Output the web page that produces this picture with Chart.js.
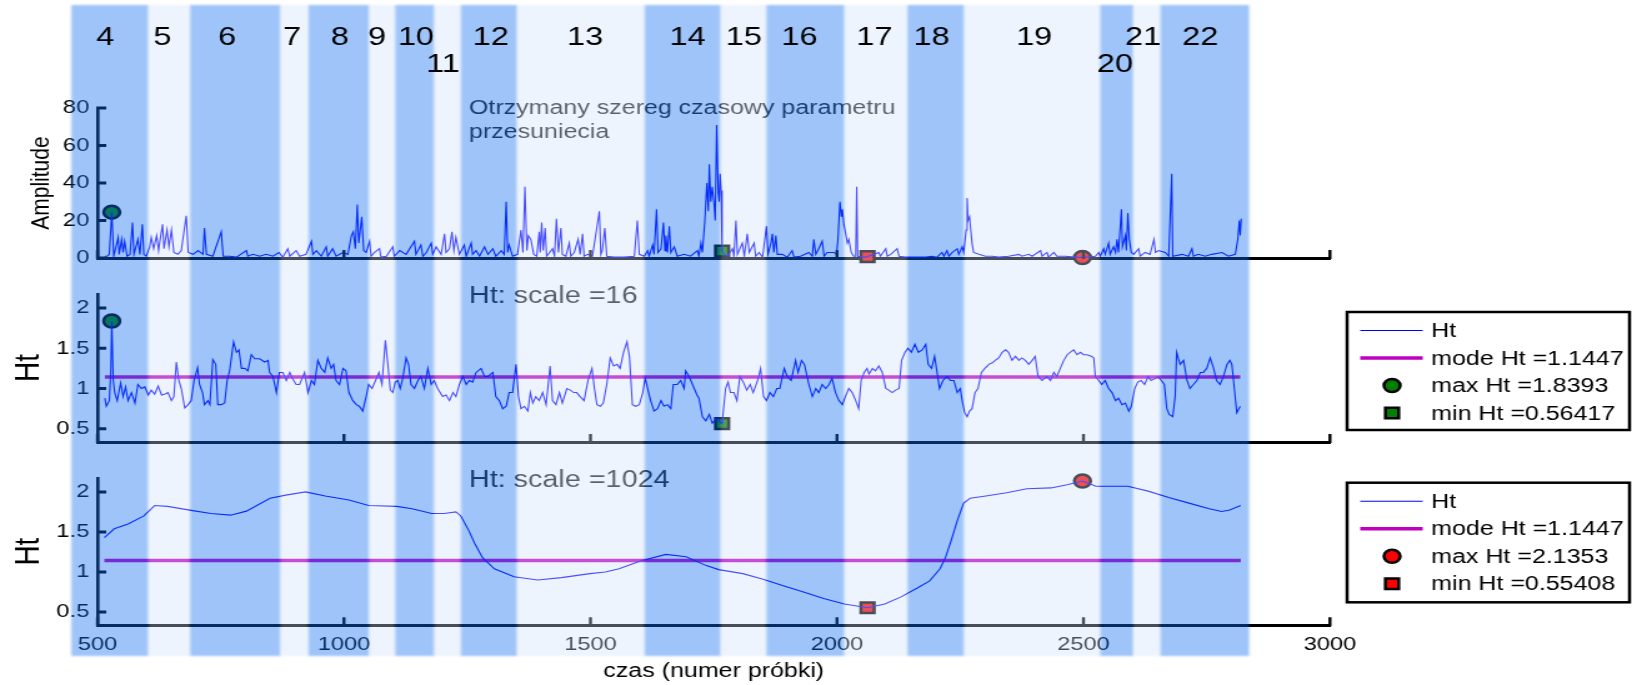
<!DOCTYPE html>
<html>
<head>
<meta charset="utf-8">
<script src="https://cdn.jsdelivr.net/npm/chart.js@4.4.0/dist/chart.umd.min.js"></script>
<style>
  body { margin: 0; background: #fff; width: 1632px; height: 685px; overflow: hidden; position: relative; }
  canvas { position: absolute; left: 0; }
</style>
</head>
<body>
<canvas id="amp" width="1306" height="276" style="top:0;width:1632px;height:276px"></canvas>
<canvas id="ht16" width="1306" height="184" style="top:276px;width:1632px;height:184px"></canvas>
<canvas id="ht1024" width="1306" height="225" style="top:460px;width:1632px;height:225px"></canvas>
<script>
// sample axis
const sampleRange = [500, 3000];
const xTicks = [500, 1000, 1500, 2000, 2500, 3000];

// segments 4..22 (boundaries in samples)
const segmentNames = ['4', '5', '6', '7', '8', '9', '10', '11', '12', '13', '14', '15', '16', '17', '18', '19', '20', '21', '22'];
const segmentEdges = [447, 603, 688, 871, 928, 1051, 1104, 1183, 1237, 1351, 1610, 1764, 1857, 2015, 2143, 2258, 2534, 2601, 2656, 2836];
const segmentLabelAt = [516, 632, 763, 895, 992, 1067, 1146, 1201, 1298, 1489, 1697, 1811, 1924, 2076, 2192, 2400, 2564, 2621, 2737];

// shift parameter series [sample, amplitude]
const amplitude = [
  [515,1],[520,1],[524,2],[529,24.5],[533,1],[542,11],[544,2],[549,10],[552,3],[555,9],[560,1],[566,2],[571,19],[574,2],
  [582,10],[586,2],[591,18],[594,2],[599,1],[606,6],[609,11],[614,5],[620,12],[624,4],[626,8],[632,18],[635,5],[641,15],
  [645,6],[650,15],[655,3],[663,2],[670,4],[680,22.5],[684,3],[694,2],[704,4],[714,2],[717,16],[721,2],[734,1],[751,14],
  [755,1],[768,1],[782,0.5],[802,4],[805,1],[815,2],[829,1],[842,2],[856,1],[868,3],[876,0.5],[886,5],[890,1],[903,4],
  [910,1],[923,2],[934,9],[937,2],[944,4],[954,1],[964,6],[967,1],[977,5],[984,1],[998,3],[1008,2],[1015,12],[1019,14],
  [1023,5],[1027,28.5],[1030,8],[1036,22],[1040,4],[1045,3],[1052,9],[1055,1],[1062,3],[1072,5],[1075,0.5],[1086,1],
  [1099,6],[1102,1],[1113,4],[1126,2],[1143,9],[1146,2],[1156,7],[1160,1],[1167,3],[1177,8],[1180,2],[1187,6],[1197,2],
  [1204,13],[1207,3],[1214,5],[1219,14],[1223,4],[1227,11],[1234,2],[1244,7],[1248,1],[1258,8],[1261,2],[1268,4],[1275,1],
  [1285,6],[1292,2],[1302,5],[1308,1],[1319,4],[1325,2],[1329,30],[1332,3],[1335,7],[1342,1],[1352,2],[1359,15],[1363,3],
  [1367,38],[1371,4],[1374,12],[1379,10],[1385,2],[1391,1],[1396,14],[1398,3],[1401,19],[1404,4],[1408,16],[1411,1],
  [1423,5],[1427,1],[1431,21],[1435,3],[1440,16],[1443,2],[1450,1],[1457,8],[1460,1],[1467,3],[1475,10],[1479,2],[1484,13],
  [1487,1],[1494,2],[1504,1],[1518,25],[1521,2],[1524,4],[1529,16],[1533,1],[1548,0.5],[1568,0.5],[1589,1],[1595,20],
  [1599,2],[1609,1],[1616,4],[1619,1],[1626,7],[1629,2],[1634,26],[1637,3],[1643,5],[1648,19],[1651,4],[1653,12],[1656,3],
  [1660,17],[1663,3],[1670,6],[1676,1],[1690,2],[1703,1],[1717,4],[1720,1],[1724,8],[1727,3],[1732,20],[1736,40],[1739,25],
  [1741,50],[1744,30],[1747,38],[1751,28],[1753,20],[1756,71],[1759,35],[1761,30],[1763,45],[1765,36],[1767,3.7],[1771,2],
  [1778,1],[1788,5],[1791,1],[1795,20],[1798,2],[1808,8],[1812,1],[1818,13],[1822,3],[1826,5],[1832,8],[1835,1],[1842,3],
  [1849,0.5],[1857,17],[1860,2],[1866,8],[1869,13],[1872,3],[1876,12],[1879,2],[1889,2],[1899,0.5],[1909,4],[1913,0.5],
  [1926,1],[1943,3],[1950,1],[1953,10],[1957,2],[1963,5],[1970,9],[1974,1],[1980,3],[1994,3],[1999,2],[2002,10],[2006,30],
  [2009,22],[2011,26],[2014,18],[2017,14],[2021,8],[2024,10],[2029,3],[2034,1],[2038,1],[2040,38],[2042,1],[2055,0.5],
  [2062,0.8],[2085,3],[2088,1],[2099,5],[2102,1],[2109,2],[2122,5],[2126,1],[2139,0.5],[2159,0.5],[2180,0.5],[2193,1],
  [2203,0.5],[2213,3],[2217,1],[2223,4],[2227,1],[2234,3],[2244,5],[2247,2],[2254,6],[2257,3],[2262,15],[2264,32],[2266,20],
  [2269,22],[2271,16],[2274,8],[2277,3],[2288,2],[2301,1],[2315,1],[2328,0.5],[2348,1],[2369,2],[2375,1],[2389,2],[2396,1],
  [2413,4],[2416,1],[2426,3],[2429,0.5],[2440,3],[2446,1],[2463,1],[2483,0.5],[2498,0.3],[2524,1],[2531,3],[2534,1],[2541,5],
  [2544,2],[2551,8],[2554,2],[2561,6],[2565,3],[2568,10],[2571,3],[2577,26],[2579,6],[2585,12],[2587,4],[2590,24],[2593,10],
  [2597,3],[2602,2],[2612,5],[2615,1],[2625,3],[2635,2],[2643,10],[2646,3],[2652,4],[2666,3],[2673,1],[2679,45],[2681,1],
  [2700,2],[2713,1],[2720,5],[2723,1],[2733,2],[2747,1],[2760,2],[2781,3],[2794,1],[2808,2],[2813,10],[2816,20],[2818,12],
  [2820,21]
];

// Ht, scale 16
const ht16 = [
  [515,0.88],[518,0.78],[524,0.85],[527,1.2],[529,1.8393],[532,1.1],[535,0.95],[540,0.85],[547,1.07],[552,0.9],[557,1.02],
  [562,0.85],[569,0.95],[576,0.82],[582,1.05],[589,1.0],[596,1.02],[603,0.92],[609,0.98],[616,0.93],[623,1.03],[630,0.92],
  [636,0.93],[643,0.95],[650,0.85],[655,0.9],[660,1.33],[665,1.1],[670,1.0],[677,0.76],[684,0.8],[690,0.85],[696,1.1],
  [703,1.26],[707,1.05],[713,0.95],[717,0.8],[724,0.85],[728,0.8],[734,1.36],[740,1.3],[744,0.8],[751,0.8],[758,0.82],
  [763,1.1],[768,1.22],[776,1.58],[782,1.45],[787,1.48],[792,1.25],[799,1.25],[805,1.22],[812,1.42],[819,1.37],[829,1.37],
  [839,1.33],[846,1.35],[849,1.2],[856,1.15],[863,0.95],[869,1.2],[876,1.2],[883,1.1],[890,1.2],[896,1.12],[903,1.05],
  [910,1.05],[920,1.2],[927,0.95],[934,1.1],[940,1.05],[947,1.35],[954,1.25],[961,1.2],[967,1.38],[974,1.25],[979,1.3],
  [984,1.1],[991,1.05],[998,1.25],[1004,1.22],[1010,0.95],[1018,0.85],[1025,0.8],[1031,0.78],[1038,0.72],[1045,0.9],
  [1050,1.05],[1057,1.0],[1064,1.1],[1071,1.2],[1077,1.05],[1084,1.6],[1089,1.3],[1094,0.98],[1099,0.95],[1104,1.08],
  [1109,1.1],[1114,1.0],[1119,1.12],[1126,1.38],[1131,1.3],[1136,1.05],[1143,1.0],[1150,1.1],[1156,1.15],[1163,1.0],
  [1170,1.25],[1177,1.05],[1183,1.1],[1190,1.0],[1200,0.9],[1207,0.92],[1214,0.85],[1221,0.95],[1227,0.9],[1234,1.05],
  [1241,1.15],[1248,1.05],[1254,1.1],[1261,1.08],[1268,1.2],[1278,1.25],[1285,1.15],[1292,1.15],[1302,1.2],[1308,0.9],
  [1315,0.85],[1322,0.75],[1329,0.78],[1335,0.95],[1342,0.95],[1349,1.3],[1354,0.9],[1359,0.75],[1366,0.78],[1373,0.72],
  [1378,0.95],[1383,0.82],[1389,0.9],[1396,0.85],[1403,0.95],[1410,0.8],[1418,1.28],[1423,0.85],[1430,0.8],[1437,0.95],
  [1443,0.82],[1452,1.0],[1459,0.98],[1466,0.95],[1472,0.95],[1479,0.9],[1487,0.85],[1495,1.1],[1503,1.25],[1508,1.0],
  [1513,0.8],[1520,0.78],[1526,0.82],[1533,1.05],[1540,1.38],[1547,1.28],[1554,1.3],[1560,1.25],[1567,1.45],[1574,1.58],
  [1579,1.4],[1585,0.8],[1592,0.78],[1599,0.8],[1606,0.95],[1611,1.13],[1616,1.0],[1622,0.85],[1629,0.72],[1636,0.75],
  [1643,0.85],[1649,0.78],[1656,0.8],[1663,0.75],[1668,1.05],[1676,1.05],[1683,1.1],[1690,1.0],[1693,1.22],[1700,1.15],
  [1707,1.05],[1716,0.92],[1720,0.88],[1727,0.65],[1734,0.6],[1741,0.68],[1747,0.57],[1754,0.62],[1759,0.62],[1763,0.58],
  [1767,0.56417],[1774,1.0],[1779,1.08],[1784,0.95],[1791,0.95],[1797,0.85],[1803,1.15],[1810,1.08],[1817,0.98],[1824,1.05],
  [1830,0.95],[1839,1.1],[1845,1.25],[1851,0.9],[1857,0.85],[1864,0.95],[1871,0.9],[1878,1.0],[1884,1.0],[1893,1.25],
  [1899,1.15],[1907,1.1],[1916,1.35],[1921,1.2],[1928,1.35],[1934,1.3],[1943,1.05],[1950,0.9],[1957,1.0],[1963,0.95],
  [1970,1.05],[1977,1.0],[1984,1.05],[1990,1.13],[1997,0.95],[2004,0.85],[2011,0.8],[2017,0.9],[2024,1.0],[2031,0.95],
  [2038,0.85],[2044,0.75],[2049,1.1],[2055,1.2],[2061,1.25],[2065,1.18],[2072,1.25],[2078,1.22],[2085,1.28],[2092,1.2],
  [2099,1.0],[2105,0.98],[2112,0.95],[2119,0.98],[2126,1.0],[2131,1.35],[2138,1.45],[2144,1.5],[2151,1.45],[2158,1.55],
  [2165,1.45],[2173,1.48],[2180,1.55],[2185,1.3],[2192,1.25],[2198,1.4],[2203,1.2],[2208,1.0],[2215,1.1],[2223,1.15],
  [2230,1.1],[2237,1.1],[2244,0.95],[2250,1.0],[2254,0.85],[2259,0.7],[2264,0.65],[2269,0.72],[2274,0.75],[2280,0.95],
  [2286,1.0],[2293,1.2],[2300,1.25],[2308,1.3],[2315,1.32],[2321,1.35],[2328,1.38],[2335,1.45],[2342,1.48],[2348,1.45],
  [2355,1.35],[2362,1.4],[2369,1.35],[2375,1.38],[2382,1.35],[2389,1.3],[2396,1.35],[2402,1.4],[2408,1.15],[2416,1.1],
  [2426,1.15],[2433,1.1],[2440,1.2],[2446,1.15],[2453,1.25],[2460,1.35],[2467,1.42],[2473,1.45],[2480,1.48],[2487,1.42],
  [2494,1.45],[2500,1.42],[2507,1.42],[2516,1.4],[2521,1.38],[2524,1.15],[2531,1.1],[2537,1.05],[2544,1.1],[2551,1.0],
  [2558,0.95],[2565,0.85],[2571,0.88],[2578,0.8],[2585,0.82],[2592,0.72],[2597,0.78],[2604,1.0],[2610,1.08],[2617,1.1],
  [2624,1.05],[2631,1.15],[2637,1.1],[2644,1.12],[2651,1.15],[2658,1.1],[2664,1.05],[2669,0.75],[2674,0.68],[2681,0.65],
  [2686,0.9],[2689,1.45],[2696,1.3],[2703,1.35],[2710,1.1],[2716,1.0],[2723,1.05],[2730,1.1],[2737,1.2],[2743,1.2],
  [2750,1.25],[2757,1.38],[2764,1.25],[2770,1.1],[2777,1.05],[2784,1.15],[2791,1.3],[2797,1.35],[2801,1.3],[2806,1.0],
  [2811,0.7],[2818,0.78]
];

// Ht, scale 1024
const ht1024 = [
  [514,1.43],[534,1.54],[562,1.60],[594,1.70],[616,1.83],[642,1.82],[690,1.77],[730,1.73],[770,1.71],[802,1.76],[850,1.92],
  [882,1.96],[922,2.0],[962,1.95],[1010,1.90],[1050,1.83],[1107,1.82],[1138,1.79],[1178,1.73],[1203,1.73],[1227,1.75],
  [1237,1.70],[1253,1.52],[1265,1.36],[1281,1.18],[1305,1.04],[1345,0.94],[1393,0.90],[1441,0.93],[1499,0.98],[1530,1.0],
  [1558,1.04],[1603,1.14],[1653,1.22],[1694,1.19],[1735,1.08],[1760,1.03],[1809,0.98],[1850,0.91],[1891,0.83],[1932,0.75],
  [1973,0.67],[2015,0.60],[2062,0.55408],[2097,0.60],[2130,0.69],[2163,0.80],[2188,0.89],[2209,1.04],[2220,1.18],[2232,1.40],
  [2245,1.66],[2257,1.86],[2270,1.92],[2302,1.95],[2344,1.99],[2385,2.04],[2434,2.05],[2467,2.09],[2498,2.1353],[2525,2.07],
  [2558,2.07],[2590,2.07],[2631,2.01],[2673,1.93],[2714,1.86],[2755,1.79],[2780,1.755],[2795,1.77],[2819,1.83]
];

const htMode = 1.1447;
const max16 = [529, 1.8393];
const min16 = [1767, 0.56417];
const max1024 = [2498, 2.1353];
const min1024 = [2062, 0.55408];
// amplitude at the four extreme positions
const ampAtExtremes = [[529, 24.5], [1767, 3.7], [2062, 0.8], [2498, 0.3]];

const ampTicks = [0, 20, 40, 60, 80];
const htTicks = [0.5, 1, 1.5, 2];

Chart.defaults.font.family = '"Liberation Sans", Arial, sans-serif';
Chart.defaults.color = '#000';

const FONT = '"Liberation Sans", Arial, sans-serif';
const GREEN = '#008000';
const RED = '#ff0000';
const xy = pts => pts.map(p => ({x: p[0], y: p[1]}));

function sampleAxis(showLabels, fitHeight) {
  return {
    type: 'linear', min: sampleRange[0], max: sampleRange[1],
    afterBuildTicks: s => { s.ticks = xTicks.map(v => ({value: v})); },
    afterFit: s => { s.height = fitHeight; },
    grid: {display: false, drawTicks: false},
    border: {display: true, color: '#000', width: 3},
    ticks: {display: showLabels, padding: 8, font: {size: 19}, maxRotation: 0, autoSkip: false, callback: v => String(v)},
    title: {display: showLabels, text: 'czas (numer próbki)', font: {size: 20}, padding: {top: 0, bottom: 2}}
  };
}

function valueAxis(min, max, ticks, title, titleSize, titlePad) {
  return {
    type: 'linear', position: 'left', min: min, max: max,
    afterBuildTicks: s => { s.ticks = ticks.map(v => ({value: v})); },
    afterFit: s => { s.width = 78; },
    grid: {display: false, drawTicks: false},
    border: {display: true, color: '#000', width: 2.6},
    ticks: {padding: 6.5, font: {size: 19}, callback: v => String(v)},
    title: {display: true, text: title, font: {size: titleSize}, padding: {top: titlePad, bottom: 0}}
  };
}

function marker(label, pt, style, fill) {
  return {
    label: label, data: xy([pt]), showLine: false, clip: false,
    pointStyle: style, pointRadius: style === 'rect' ? 7.5 : 6.5,
    pointBorderWidth: 2.5, pointBackgroundColor: fill, pointBorderColor: '#000'
  };
}

function seriesLine(label, pts) {
  return {label: label, data: xy(pts), borderColor: '#0000ff', borderWidth: 1.1, pointRadius: 0, tension: 0};
}

function modeLine(pts) {
  const first = pts[0][0], last = pts[pts.length - 1][0];
  return {label: 'mode Ht =' + htMode, data: xy([[first, htMode], [last, htMode]]),
          borderColor: '#c000c0', borderWidth: 3.5, pointRadius: 0};
}

// inward tick marks on both axes
const inwardTicks = {
  id: 'inwardTicks',
  afterDatasetsDraw(chart) {
    const {ctx, chartArea: a, scales: {x, y}} = chart;
    ctx.save();
    ctx.strokeStyle = '#000';
    ctx.lineWidth = 2.4;
    ctx.beginPath();
    for (const t of x.ticks) {
      const px = x.getPixelForValue(t.value);
      ctx.moveTo(px, a.bottom + 1);
      ctx.lineTo(px, a.bottom - 8);
    }
    ctx.stroke();
    ctx.lineWidth = 3;
    ctx.beginPath();
    for (const t of y.ticks) {
      const py = y.getPixelForValue(t.value);
      ctx.moveTo(a.left - 1, py);
      ctx.lineTo(a.left + 7, py);
    }
    ctx.stroke();
    ctx.restore();
  }
};

// notes inside the panel, segment shading, segment numbers, boxed key
const segments = {
  id: 'segments',
  afterDraw(chart, args, opts) {
    const {ctx, scales: {x}} = chart;
    const h = chart.height;

    ctx.save();
    ctx.fillStyle = '#1e1e1e';
    ctx.textBaseline = 'alphabetic';
    for (const n of opts.notes || []) {
      ctx.font = n.size + 'px ' + FONT;
      ctx.fillText(n.text, n.x, n.y);
    }
    ctx.restore();

    const top = Math.max(5 - opts.pageTop, -10);
    const bottom = Math.min(656 - opts.pageTop, h + 10);
    ctx.save();
    ctx.filter = 'blur(1px)';
    for (let i = 0; i < segmentNames.length; i++) {
      const x0 = x.getPixelForValue(segmentEdges[i]);
      const x1 = x.getPixelForValue(segmentEdges[i + 1]);
      ctx.fillStyle = i % 2 === 0 ? 'rgba(12,108,242,0.4)' : 'rgba(206,224,249,0.35)';
      ctx.fillRect(x0, top, x1 - x0, bottom - top);
    }
    ctx.restore();

    if (opts.numbers) {
      ctx.save();
      ctx.fillStyle = '#000';
      ctx.font = '26px ' + FONT;
      ctx.textAlign = 'center';
      ctx.textBaseline = 'alphabetic';
      const lowered = ['11', '20'];
      segmentNames.forEach((name, i) => {
        const px = x.getPixelForValue(segmentLabelAt[i]);
        ctx.fillText(name, px, lowered.includes(name) ? 71.5 : 45);
      });
      ctx.restore();
    }

    if (opts.key) {
      const k = opts.key;
      ctx.save();
      ctx.fillStyle = '#fff';
      ctx.fillRect(k.left, k.top, k.width, k.height);
      ctx.lineWidth = 2.5;
      ctx.strokeStyle = '#000';
      ctx.strokeRect(k.left, k.top, k.width, k.height);
      ctx.font = '20px ' + FONT;
      ctx.textBaseline = 'middle';
      chart.data.datasets.forEach((ds, i) => {
        const cy = k.top + 18.5 + i * 27.5;
        if (ds.showLine === false) {
          ctx.fillStyle = ds.pointBackgroundColor;
          ctx.strokeStyle = ds.pointBorderColor;
          ctx.lineWidth = ds.pointBorderWidth;
          Chart.helpers.drawPoint(ctx, {pointStyle: ds.pointStyle, radius: ds.pointRadius, borderWidth: ds.pointBorderWidth, rotation: 0}, k.left + 36, cy);
        } else {
          ctx.strokeStyle = ds.borderColor;
          ctx.lineWidth = ds.borderWidth;
          ctx.beginPath();
          ctx.moveTo(k.left + 10.5, cy);
          ctx.lineTo(k.left + 60.5, cy);
          ctx.stroke();
        }
        ctx.fillStyle = '#000';
        ctx.fillText(ds.label, k.left + 67.3, cy + 1);
      });
      ctx.restore();
    }
  }
};

function makeChart(id, datasets, xAxis, yAxis, padding, segOpts) {
  return new Chart(document.getElementById(id), {
    type: 'line',
    data: {datasets: datasets},
    options: {
      responsive: false,
      animation: false,
      events: [],
      devicePixelRatio: 1,
      layout: {autoPadding: false, padding: padding},
      scales: {x: xAxis, y: yAxis},
      plugins: {legend: {display: false}, tooltip: {enabled: false}, segments: segOpts}
    },
    plugins: [inwardTicks, segments]
  });
}

makeChart('amp', [
  seriesLine('Amplitude', amplitude),
  marker('', ampAtExtremes[0], 'circle', GREEN),
  marker('', ampAtExtremes[1], 'rect', GREEN),
  marker('', ampAtExtremes[2], 'rect', RED),
  marker('', ampAtExtremes[3], 'circle', RED)
], sampleAxis(false, 0), valueAxis(0, 80, ampTicks, 'Amplitude', 21, 20.4),
{top: 108, bottom: 12, left: 0, right: 241.7},
{pageTop: 0, numbers: true, notes: [
  {text: 'Otrzymany szereg czasowy parametru', x: 375.3, y: 114, size: 20},
  {text: 'przesuniecia', x: 375.3, y: 138, size: 20}
]});

makeChart('ht16', [
  seriesLine('Ht', ht16),
  modeLine(ht16),
  marker('max Ht =' + max16[1], max16, 'circle', GREEN),
  marker('min Ht =' + min16[1], min16, 'rect', GREEN)
], sampleAxis(false, 0), valueAxis(0.335, 2.175, htTicks, 'Ht', 28, 6.8),
{top: 14, bottom: 16.4, left: 0, right: 241.7},
{pageTop: 276, notes: [{text: 'Ht: scale =16', x: 375.3, y: 27.3, size: 23}],
 key: {left: 1078, top: 36, width: 226, height: 118}});

makeChart('ht1024', [
  seriesLine('Ht', ht1024),
  modeLine(ht1024),
  marker('max Ht =' + max1024[1], max1024, 'circle', RED),
  marker('min Ht =' + min1024[1], min1024, 'rect', RED)
], sampleAxis(true, 59.7), valueAxis(0.335, 2.175, htTicks, 'Ht', 28, 6.8),
{top: 11.7, bottom: 0, left: 0, right: 241.7},
{pageTop: 460, notes: [{text: 'Ht: scale =1024', x: 375.3, y: 26.7, size: 23}],
 key: {left: 1078, top: 22.7, width: 226, height: 119.6}});
</script>
</body>
</html>
